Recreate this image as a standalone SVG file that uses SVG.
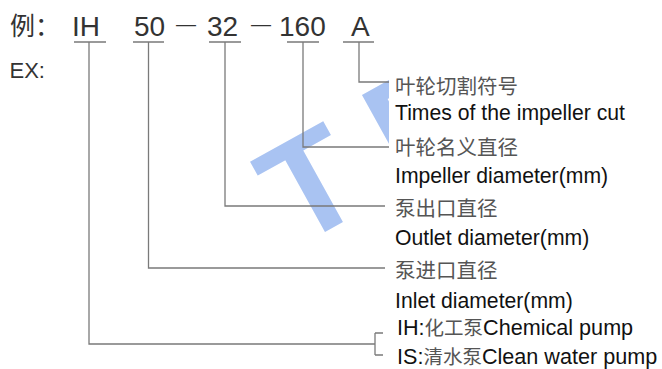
<svg xmlns="http://www.w3.org/2000/svg" width="662" height="369" viewBox="0 0 662 369">
<style>
.wm{font-family:"Liberation Sans",Arial,sans-serif;font-weight:bold;font-size:142px;fill:#a9c3f2}
.top{font-family:"Liberation Sans","Noto Sans CJK SC",sans-serif;font-size:28px;fill:#333}
.cjk{font-family:"Noto Sans CJK SC",sans-serif;font-size:20.5px;fill:#555}
.en{font-family:"Liberation Sans","Noto Sans CJK SC",sans-serif;font-size:21.2px;fill:#111}
.en2{font-family:"Liberation Sans","Noto Sans CJK SC",sans-serif;font-size:21.6px;fill:#111}
.g{fill:#555;font-family:"Noto Sans CJK SC",sans-serif;font-size:19.5px}
.ln{fill:none;stroke:#7a7a7a;stroke-width:1.3}
</style>
<defs>
<clipPath id="wmclip"><rect x="0" y="0" width="389" height="369"/></clipPath>
</defs>
<rect width="662" height="369" fill="#fff"/>
<g id="watermark" clip-path="url(#wmclip)">
<text class="wm" transform="translate(334,227) rotate(-29)" text-anchor="middle" x="0" y="0">T</text>
<text class="wm" transform="translate(401,185) rotate(-29)" x="0" y="0">R</text>
</g>
<g id="code">
<text x="10" y="35" style="font-family:'Noto Sans CJK SC',sans-serif;font-size:25px;fill:#333">例：</text>
<text class="top" x="72" y="36">IH</text>
<text class="top" x="134" y="36">50</text>
<text class="top" x="207" y="36">32</text>
<text class="top" x="279" y="36">160</text>
<text class="top" x="351" y="36">A</text>
<text x="176" y="30.6" style="font-family:'Liberation Sans',sans-serif;font-size:20px;fill:#333">—</text>
<text x="251" y="30.6" style="font-family:'Liberation Sans',sans-serif;font-size:20px;fill:#333">—</text>
<text x="9.5" y="78" style="font-family:'Liberation Sans',sans-serif;font-size:22px;fill:#333">EX:</text>
</g>
<g id="connectors">
<path class="ln" d="M74 42H106M89 42V344H375M375 333V355M375 333H383M375 355H383"/>
<path class="ln" d="M133 42H164M148.5 42V268H385"/>
<path class="ln" d="M209 42H241M225 42V206H385"/>
<path class="ln" d="M287 42H319M303 42V147H389"/>
<path class="ln" d="M343 42H374M359 42V82H389"/>
</g>
<g id="node-cut">
<text class="cjk" x="395" y="94">叶轮切割符号</text>
<text class="en" x="395" y="120">Times of the impeller cut</text>
</g>
<g id="node-impeller">
<text class="cjk" x="395" y="155">叶轮名义直径</text>
<text class="en" x="395" y="183">Impeller diameter(mm)</text>
</g>
<g id="node-outlet">
<text class="cjk" x="395" y="216">泵出口直径</text>
<text class="en" x="395" y="245">Outlet diameter(mm)</text>
</g>
<g id="node-inlet">
<text class="cjk" x="395" y="278">泵进口直径</text>
<text class="en" x="395" y="308">Inlet diameter(mm)</text>
</g>
<g id="node-type">
<text class="en2" x="397" y="335">IH:<tspan class="g">化工泵</tspan>Chemical pump</text>
<text class="en2" x="397" y="364">IS:<tspan class="g">清水泵</tspan>Clean water pump</text>
</g>
</svg>
